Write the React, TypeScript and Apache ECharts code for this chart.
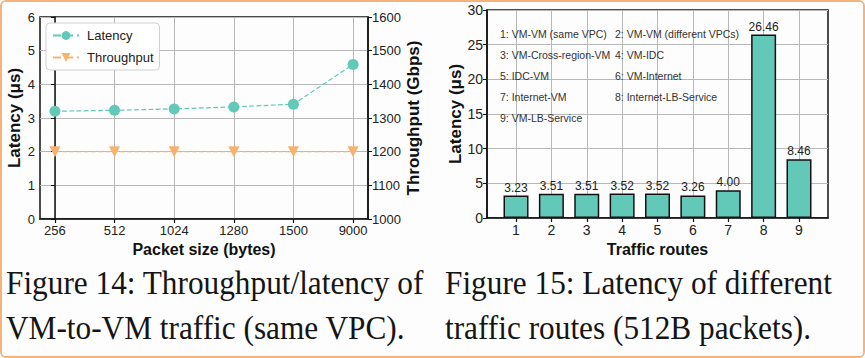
import React, { useEffect, useRef } from "react";
import * as echarts from "echarts";

const packetSizes = ["256", "512", "1024", "1280", "1500", "9000"];
const latencyUs = [3.2, 3.23, 3.27, 3.33, 3.41, 4.59];
const throughputGbps = [1200, 1200, 1200, 1200, 1200, 1200];

const routeIds = [1, 2, 3, 4, 5, 6, 7, 8, 9];
const routeLatency = [3.23, 3.51, 3.51, 3.52, 3.52, 3.26, 4.0, 26.46, 8.46];
const routeNames = [
  "1: VM-VM (same VPC)",
  "2: VM-VM (different VPCs)",
  "3: VM-Cross-region-VM",
  "4: VM-IDC",
  "5: IDC-VM",
  "6: VM-Internet",
  "7: Internet-VM",
  "8: Internet-LB-Service",
  "9: VM-LB-Service",
];

const leftTicks = [0, 1, 2, 3, 4, 5];
const caption14 = ["Figure 14: Throughput/latency of", "VM-to-VM traffic (same VPC)."];
const caption15 = ["Figure 15: Latency of different", "traffic routes (512B packets)."];

const TEAL = "#62c9b9";
const ORANGE = "#f9b26e";
const SANS = "'Liberation Sans', Arial, sans-serif";
const SERIF = "'Liberation Serif', 'Times New Roman', serif";

export default function App() {
  const ref = useRef<HTMLDivElement>(null);
  useEffect(() => {
    document.body.style.margin = "0";
    if (!ref.current) return;
    const chart = echarts.init(ref.current, null, { renderer: "svg" });

    const axisLine = { show: true, lineStyle: { color: "#111", width: 1.5 } };
    const axisTick = { show: true, length: 4, lineStyle: { color: "#111", width: 1.2 } };
    const labelStyle = { fontFamily: SANS, fontSize: 13, color: "#222" };
    const titleStyle = { fontFamily: SANS, fontSize: 16, fontWeight: "bold" as const, color: "#111" };
    const splitLine = { show: true, lineStyle: { color: "#b8b8b8", width: 1 } };

    const graphics: any[] = [];
    routeNames.forEach((t, i) => {
      const col = i % 2;
      const row = Math.floor(i / 2);
      graphics.push({
        type: "text",
        x: col === 0 ? 500 : 615,
        y: [34, 55, 76, 97, 118][row],
        z: 10,
        style: { text: t, fontFamily: SANS, fontSize: 10.5, fill: "#333", verticalAlign: "middle" },
      });
    });
    [caption14, caption15].forEach((lines, c) => {
      lines.forEach((t, i) => {
        graphics.push({
          type: "text",
          x: c === 0 ? 6 : 445,
          y: i === 0 ? 282 : 327,
          scaleY: 1.1,
          style: { text: t, fontFamily: SERIF, fontSize: 31.3, fill: "#151515", verticalAlign: "middle" },
        });
      });
    });

    chart.setOption({
      animation: false,
      backgroundColor: "#fdfdfd",
      grid: [
        { left: 40, top: 17, width: 328, height: 202, show: true, borderColor: "#111", borderWidth: 1.5, backgroundColor: "transparent" },
        { left: 487, top: 10, width: 341, height: 208, show: true, borderColor: "#111", borderWidth: 1.5, backgroundColor: "transparent" },
      ],
      legend: {
        left: 46,
        top: 23,
        orient: "vertical",
        itemWidth: 26,
        itemHeight: 11,
        itemGap: 9,
        padding: [6, 6, 6, 6],
        backgroundColor: "#fff",
        borderColor: "#d0d0d0",
        borderWidth: 1,
        borderRadius: 4,
        textStyle: { fontFamily: SANS, fontSize: 13, color: "#222", padding: [0, 0, 0, 3] },
        data: ["Latency", "Throughput"],
      },
      xAxis: [
        {
          type: "value",
          gridIndex: 0,
          min: -0.25,
          max: 5.25,
          name: "Packet size (bytes)",
          nameLocation: "middle",
          nameGap: 21,
          nameTextStyle: titleStyle,
          axisLine,
          axisTick: { ...axisTick, customValues: leftTicks },
          axisLabel: { ...labelStyle, margin: 5, customValues: leftTicks, formatter: (v: number) => packetSizes[Math.round(v)] },
          splitLine,
        },
        {
          type: "value",
          gridIndex: 1,
          min: 0.18,
          max: 9.82,
          name: "Traffic routes",
          nameLocation: "middle",
          nameGap: 22,
          nameTextStyle: titleStyle,
          axisLine,
          axisTick: { ...axisTick, customValues: routeIds },
          axisLabel: { ...labelStyle, fontSize: 14, margin: 5, customValues: routeIds, formatter: (v: number) => String(Math.round(v)) },
          splitLine,
        },
      ],
      yAxis: [
        {
          type: "value",
          gridIndex: 0,
          position: "left",
          min: 0,
          max: 6,
          interval: 1,
          name: "Latency (μs)",
          nameLocation: "middle",
          nameRotate: 90,
          nameGap: 17,
          nameTextStyle: { ...titleStyle, fontSize: 17 },
          axisLine,
          axisTick,
          axisLabel: { ...labelStyle, margin: 5 },
          splitLine,
        },
        {
          type: "value",
          gridIndex: 0,
          position: "right",
          min: 1000,
          max: 1600,
          interval: 100,
          name: "Throughput (Gbps)",
          nameLocation: "middle",
          nameRotate: 90,
          nameGap: 35,
          nameTextStyle: { ...titleStyle, fontSize: 17 },
          axisLine,
          axisTick,
          axisLabel: { ...labelStyle, margin: 4, formatter: (v: number) => String(v) },
          splitLine: { show: false },
        },
        {
          type: "value",
          gridIndex: 1,
          min: 0,
          max: 30,
          interval: 5,
          name: "Latency (μs)",
          nameLocation: "middle",
          nameRotate: 90,
          nameGap: 22,
          nameTextStyle: { ...titleStyle, fontSize: 17 },
          axisLine,
          axisTick,
          axisLabel: { ...labelStyle, fontSize: 14, margin: 4 },
          splitLine,
        },
      ],
      series: [
        {
          name: "Latency",
          type: "line",
          xAxisIndex: 0,
          yAxisIndex: 0,
          data: latencyUs.map((v, i) => [i, v]),
          symbol: "circle",
          symbolSize: 11,
          itemStyle: { color: TEAL },
          lineStyle: { color: TEAL, width: 1.2, type: "dashed" },
          z: 4,
        },
        {
          name: "Throughput",
          type: "line",
          xAxisIndex: 0,
          yAxisIndex: 1,
          data: throughputGbps.map((v, i) => [i, v]),
          symbol: "triangle",
          symbolRotate: 180,
          symbolSize: 11,
          itemStyle: { color: ORANGE },
          lineStyle: { color: ORANGE, width: 1.2, type: "dashed" },
          z: 3,
        },
        {
          name: "Route latency",
          type: "bar",
          xAxisIndex: 1,
          yAxisIndex: 2,
          data: routeLatency.map((v, i) => [routeIds[i], v]),
          barWidth: 25,
          itemStyle: { color: TEAL, borderColor: "#111", borderWidth: 1.5 },
          label: {
            show: true,
            position: "top",
            distance: 2,
            fontFamily: SANS,
            fontSize: 12,
            color: "#222",
            formatter: (p: any) => p.value[1].toFixed(2),
          },
          z: 3,
        },
      ],
      graphic: graphics,
    });
    return () => chart.dispose();
  }, []);

  return (
    <div
      style={{
        position: "absolute",
        left: 0,
        top: 0,
        width: 865,
        height: 358,
        boxSizing: "border-box",
        border: "2px solid #f5b27a",
        borderRadius: 6,
        overflow: "hidden",
      }}
    >
      <div ref={ref} style={{ position: "absolute", left: -2, top: -2, width: 865, height: 358 }} />
    </div>
  );
}
